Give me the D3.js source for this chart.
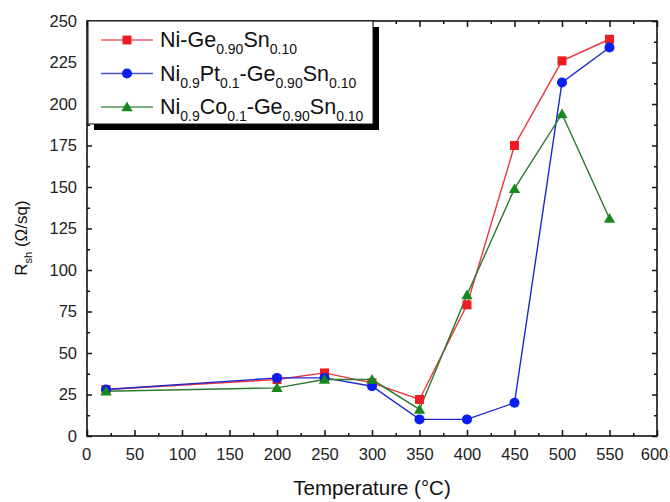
<!DOCTYPE html>
<html><head><meta charset="utf-8">
<script src="https://cdn.jsdelivr.net/npm/d3@7"></script>
<style>
body{margin:0;background:#fff;}
svg{display:block;font-family:"Liberation Sans",Arial,sans-serif;}
</style></head>
<body><svg id="c" width="670" height="502"></svg>
<script>
const temps = [20, 200, 250, 300, 350, 400, 450, 500, 550];
const niGeSn = [28, 34, 38, 32, 22, 79, 175, 226, 239];
const niPtGeSn = [28, 35, 35, 30, 10, 10, 20, 213, 234];
const niCoGeSn = [27, 29, 34, 34, 16, 85, 149, 194, 131];
const xTicks = [0,50,100,150,200,250,300,350,400,450,500,550,600];
const xMinor = [25,75,125,175,225,275,325,375,425,475,525,575];
const yTicks = [0,25,50,75,100,125,150,175,200,225,250];
const yMinor = [12.5,37.5,62.5,87.5,112.5,137.5,162.5,187.5,212.5,237.5];

const series = [
  {name:[["Ni-Ge",0],["0.90",1],["Sn",0],["0.10",1]], values:niGeSn, color:"#ee1c24", line:"#e8343c", marker:"square"},
  {name:[["Ni",0],["0.9",1],["Pt",0],["0.1",1],["-Ge",0],["0.90",1],["Sn",0],["0.10",1]], values:niPtGeSn, color:"#0a1ef0", line:"#1c28c8", marker:"circle"},
  {name:[["Ni",0],["0.9",1],["Co",0],["0.1",1],["-Ge",0],["0.90",1],["Sn",0],["0.10",1]], values:niCoGeSn, color:"#18881e", line:"#2a7a2e", marker:"triangle"}
];

const svg = d3.select("#c");
const L=87, R=657, T=21, B=436;
const x = d3.scaleLinear().domain([0,600]).range([L,R]);
const y = d3.scaleLinear().domain([0,250]).range([B,T]);

const tickFont = 16.5;
// bottom axis
const gx = svg.append("g").attr("transform",`translate(0,${B})`)
  .call(d3.axisBottom(x).tickValues(xTicks).tickSizeInner(-6).tickSizeOuter(0).tickPadding(12));
svg.append("g").attr("transform",`translate(0,${B})`)
  .call(d3.axisBottom(x).tickValues(xMinor).tickSizeInner(-3).tickSizeOuter(0).tickFormat(""));
// top axis
svg.append("g").attr("transform",`translate(0,${T})`)
  .call(d3.axisTop(x).tickValues(xTicks).tickSizeInner(-6).tickSizeOuter(0).tickFormat(""));
svg.append("g").attr("transform",`translate(0,${T})`)
  .call(d3.axisTop(x).tickValues(xMinor).tickSizeInner(-3).tickSizeOuter(0).tickFormat(""));
// left axis
const gy = svg.append("g").attr("transform",`translate(${L},0)`)
  .call(d3.axisLeft(y).tickValues(yTicks).tickSizeInner(-5).tickSizeOuter(0).tickPadding(10));
svg.append("g").attr("transform",`translate(${L},0)`)
  .call(d3.axisLeft(y).tickValues(yMinor).tickSizeInner(-3).tickSizeOuter(0).tickFormat(""));
// right axis
svg.append("g").attr("transform",`translate(${R},0)`)
  .call(d3.axisRight(y).tickValues(yTicks).tickSizeInner(-5).tickSizeOuter(0).tickFormat(""));
svg.append("g").attr("transform",`translate(${R},0)`)
  .call(d3.axisRight(y).tickValues(yMinor).tickSizeInner(-3).tickSizeOuter(0).tickFormat(""));

svg.selectAll(".domain").remove();
svg.selectAll(".tick line").attr("stroke","#111").attr("stroke-width",1.5);
svg.selectAll(".tick text").attr("font-size",tickFont).attr("fill","#222").attr("font-family","Liberation Sans, Arial, sans-serif");
gx.selectAll(".tick text").filter(d=>d===600).attr("dx",-3);
gx.selectAll(".tick text").filter(d=>d===0).attr("dx",-1);

svg.append("rect").attr("x",x(0)).attr("y",y(250)).attr("width",x(600)-x(0)).attr("height",y(0)-y(250))
  .attr("fill","none").attr("stroke","#111").attr("stroke-width",1.6);

// series
const line = d3.line().x((d,i)=>x(temps[i])).y(d=>y(d));
const tri = d3.symbol().type(d3.symbolTriangle).size(55);
function drawMarker(g, type, cx, cy, color){
  if(type==="square"){
    g.append("rect").attr("x",cx-4.5).attr("y",cy-4.5).attr("width",9).attr("height",9).attr("fill",color);
  } else if(type==="circle"){
    g.append("circle").attr("cx",cx).attr("cy",cy).attr("r",5).attr("fill",color);
  } else {
    g.append("path").attr("d",tri()).attr("transform",`translate(${cx},${cy+1})`).attr("fill",color);
  }
}
series.forEach(s=>{
  svg.append("path").datum(s.values).attr("d",line).attr("fill","none").attr("stroke",s.line).attr("stroke-width",1.4);
});
series.forEach(s=>{
  const g = svg.append("g");
  s.values.forEach((v,i)=>drawMarker(g, s.marker, x(temps[i]), y(v), s.color));
});

// legend
const lg = svg.append("g");
lg.append("rect").attr("x",94).attr("y",27).attr("width",285).attr("height",103).attr("fill","#000");
lg.append("rect").attr("x",88).attr("y",21).attr("width",285).attr("height",103).attr("fill","#fff").attr("stroke","#111").attr("stroke-width",1);
const rowsY = [40, 73.5, 107];
series.forEach((s,k)=>{
  const cy = rowsY[k];
  lg.append("line").attr("x1",101).attr("x2",153).attr("y1",cy).attr("y2",cy).attr("stroke",s.line).attr("stroke-width",1.6).attr("opacity",0.8);
  drawMarker(lg, s.marker, 127, cy, s.color);
  const t = lg.append("text").attr("x",160).attr("y",cy+7).attr("font-size",21.5).attr("fill","#111");
  let shifted=false;
  s.name.forEach(([str,sub])=>{
    const ts = t.append("tspan").text(str);
    if(sub && !shifted){ ts.attr("dy",7).attr("font-size",14); shifted=true; }
    else if(sub){ ts.attr("font-size",14); }
    else if(!sub && shifted){ ts.attr("dy",-7); shifted=false; }
  });
});

// axis titles
svg.append("text").attr("x",(L+R)/2).attr("y",495).attr("text-anchor","middle")
  .attr("font-size",20.5).attr("fill","#111").text("Temperature (°C)");
const yt = svg.append("text").attr("transform","translate(27,238) rotate(-90)").attr("text-anchor","middle")
  .attr("font-size",17).attr("fill","#111");
yt.append("tspan").text("R");
yt.append("tspan").attr("dy",5).attr("font-size",11).text("sh");
yt.append("tspan").attr("dy",-5).text(" (Ω/sq)");
</script></body></html>
